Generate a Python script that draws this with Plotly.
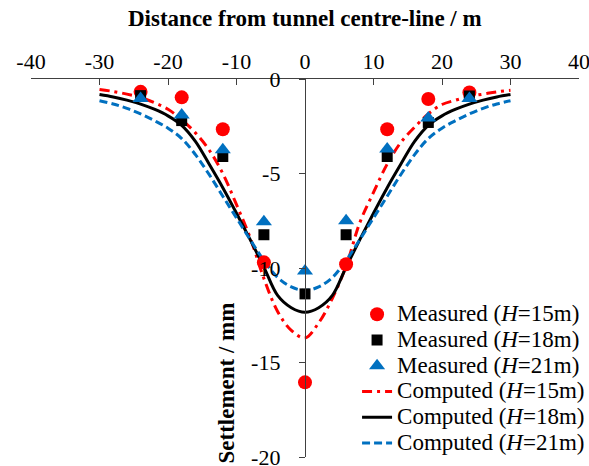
import plotly.graph_objects as go

# Measured settlements (mm) at offsets (m)
x_meas = [-24, -18, -12, -6, 0, 6, 12, 18, 24]
meas_h15 = [-0.68, -0.97, -2.66, -9.7, -16.05, -9.8, -2.66, -1.06, -0.71]
meas_h18 = [-0.88, -2.2, -4.1, -8.24, -11.37, -8.24, -4.1, -2.3, -0.9]
meas_h21 = [-1.03, -1.9, -3.74, -7.55, -10.16, -7.5, -3.7, -2.06, -1.03]

# Computed settlement troughs
x_comp = [-30, -28, -26, -24, -22, -20, -18, -16, -14, -12, -10, -8, -6, -4, -2, 0,
          2, 4, 6, 8, 10, 12, 14, 16, 18, 20, 22, 24, 26, 28, 30]
comp_h15 = [-0.55, -0.66, -0.8, -0.98, -1.25, -1.6, -2.15, -2.85, -3.75, -5.0, -6.65, -8.4, -10.55, -12.3, -13.3, -13.7,
            -12.9, -11.6, -9.9, -7.6, -6.0, -4.5, -3.35, -2.55, -1.85, -1.35, -1.12, -0.92, -0.8, -0.68, -0.6]
comp_h18 = [-0.82, -0.95, -1.12, -1.33, -1.6, -1.95, -2.45, -3.3, -4.5, -5.75, -7.1, -8.5, -9.95, -11.45, -12.1, -12.34,
            -12.1, -11.45, -9.95, -8.5, -7.1, -5.75, -4.5, -3.3, -2.45, -1.95, -1.6, -1.33, -1.12, -0.95, -0.82]
comp_h21 = [-1.15, -1.32, -1.55, -1.85, -2.2, -2.6, -3.15, -4.0, -5.05, -6.2, -7.35, -8.5, -9.6, -10.5, -11.0, -11.19,
            -11.0, -10.5, -9.6, -8.5, -7.35, -6.2, -5.05, -4.0, -3.15, -2.6, -2.2, -1.85, -1.55, -1.32, -1.15]

x_ticks = [-40, -30, -20, -10, 0, 10, 20, 30, 40]
y_ticks = [0, -5, -10, -15, -20]

FONT = "Liberation Serif, Times New Roman, serif"
RED = "#FF0000"
BLUE = "#0070C0"


def lg(label):
    return '<span style="font-size:23px">' + label + '</span>'


fig = go.Figure()

fig.add_trace(go.Scatter(x=x_comp, y=comp_h15, mode="lines", name=lg("Computed (<i>H</i>=15m)"),
                         line=dict(color=RED, width=3, dash="10px,5px,3px,5px", shape="spline"),
                         legendrank=4))
fig.add_trace(go.Scatter(x=x_comp, y=comp_h18, mode="lines", name=lg("Computed (<i>H</i>=18m)"),
                         line=dict(color="black", width=3, shape="spline"), legendrank=5))
fig.add_trace(go.Scatter(x=x_comp, y=comp_h21, mode="lines", name=lg("Computed (<i>H</i>=21m)"),
                         line=dict(color=BLUE, width=3, dash="8px,4px", shape="spline"), legendrank=6))

fig.add_trace(go.Scatter(x=x_meas, y=meas_h15, mode="markers", name=lg("Measured (<i>H</i>=15m)"),
                         marker=dict(symbol="circle", size=14, color=RED), legendrank=1))
fig.add_trace(go.Scatter(x=x_meas, y=meas_h18, mode="markers", name=lg("Measured (<i>H</i>=18m)"),
                         marker=dict(symbol="square", size=11, color="black"), legendrank=2))
fig.add_trace(go.Scatter(x=x_meas, y=meas_h21, mode="markers", name=lg("Measured (<i>H</i>=21m)"),
                         marker=dict(symbol="triangle-up", size=14, color=BLUE), legendrank=3))

fig.update_layout(
    width=589, height=466,
    margin=dict(l=31, r=10, t=79, b=9, autoexpand=False),
    paper_bgcolor="white", plot_bgcolor="white",
    font=dict(family=FONT, size=22, color="black"),
    showlegend=True,
    legend=dict(x=0.595, y=0.425, xanchor="left", yanchor="top",
                bgcolor="rgba(0,0,0,0)", borderwidth=0,
                font=dict(family=FONT, size=17.5, color="black"),
                tracegroupgap=0, itemwidth=30),
    xaxis=dict(range=[-40, 40], side="top", tickvals=x_ticks, ticktext=[str(v) for v in x_ticks],
               ticks="inside", ticklen=6, tickcolor="#404040", showline=True, linecolor="#404040",
               linewidth=1.3, showgrid=False, zeroline=False, tickfont=dict(size=22),
               ticklabeloverflow="allow"),
    yaxis=dict(range=[-20, 0], anchor="free", position=0.5, tickvals=y_ticks,
               ticktext=[str(v) for v in y_ticks], ticks="outside", ticklen=6, tickcolor="#404040",
               showline=True, linecolor="#404040", linewidth=1.3, showgrid=False, zeroline=False,
               tickfont=dict(size=22), ticklabelstandoff=14, ticklabeloverflow="allow"),
    annotations=[
        dict(text="<b>Distance from tunnel centre-line / m</b>", xref="paper", yref="paper",
             x=0.5, y=1.16, xanchor="center", yanchor="middle", showarrow=False,
             font=dict(family=FONT, size=23, color="black")),
        dict(text="<b>Settlement / mm</b>", xref="x", yref="y", x=-11.5, y=-16.1,
             textangle=-90, xanchor="center", yanchor="middle", showarrow=False,
             font=dict(family=FONT, size=23, color="black")),
    ],
)

fig.write_html("out.html")
